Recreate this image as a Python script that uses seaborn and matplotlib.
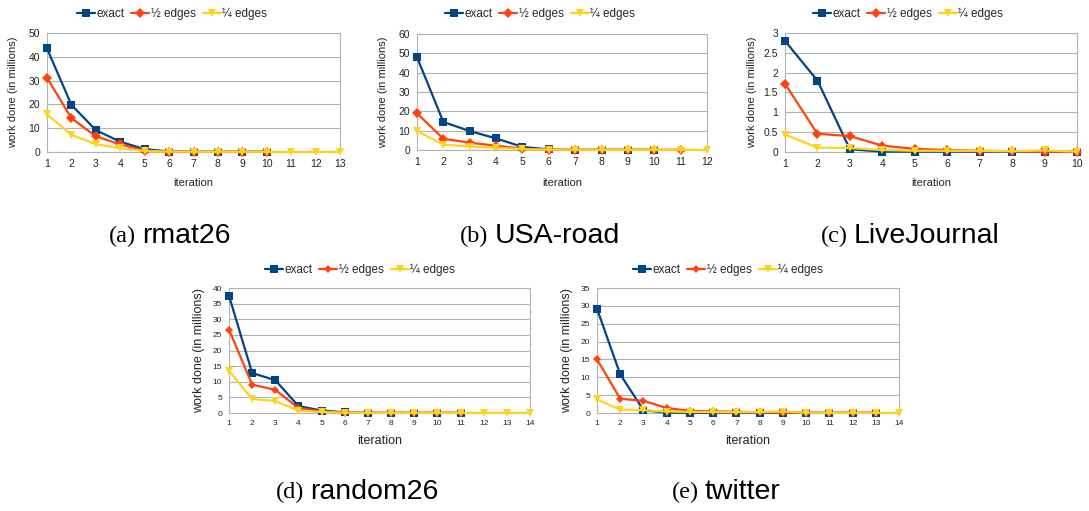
import numpy as np
import pandas as pd
import matplotlib
matplotlib.use("Agg")
import matplotlib.pyplot as plt
import seaborn as sns
from matplotlib.ticker import FuncFormatter, MultipleLocator

# ---- data (work done per iteration, in millions) ----
rmat26_exact = [43.5, 19.8, 9.2, 4.3, 1.2, 0.2, 0.1, 0.1, 0.1, 0.1]
rmat26_half = [31.2, 14.2, 6.6, 3.2, 0.6, 0.15, 0.1, 0.1, 0.1, 0.1]
rmat26_quarter = [15.8, 7.2, 3.3, 1.6, 0.4, 0.15, 0.1, 0.1, 0.1, 0.1, 0.1, 0.1, 0.1]

usa_exact = [48.0, 14.5, 9.8, 6.0, 1.6, 0.3, 0.1, 0.1, 0.1, 0.1]
usa_half = [19.0, 5.8, 3.8, 2.2, 0.7, 0.2, 0.1, 0.1, 0.1, 0.1, 0.1]
usa_quarter = [9.8, 2.8, 1.8, 1.2, 0.4, 0.2, 0.15, 0.1, 0.1, 0.1, 0.1, 0.1]

lj_exact = [2.8, 1.8, 0.07, 0.01, 0.01, 0.01, 0.01, 0.01, 0.01, 0.01]
lj_half = [1.72, 0.46, 0.40, 0.16, 0.08, 0.05, 0.03, 0.02, 0.01, 0.01]
lj_quarter = [0.44, 0.11, 0.10, 0.05, 0.03, 0.03, 0.03, 0.02, 0.04, 0.01]

rand_exact = [37.5, 12.8, 10.5, 2.2, 0.8, 0.2, 0.05, 0.05, 0.05, 0.05, 0.05]
rand_half = [26.7, 9.1, 7.4, 1.6, 0.5, 0.1, 0.05, 0.05, 0.05, 0.05, 0.05]
rand_quarter = [13.5, 4.5, 3.8, 0.8, 0.3, 0.1, 0.05, 0.05, 0.05, 0.05, 0.05, 0.05, 0.05, 0.05]

tw_exact = [29.2, 10.8, 0.8, 0.1, 0.05, 0.05, 0.05, 0.05, 0.05, 0.05, 0.05, 0.05, 0.05]
tw_half = [15.0, 4.0, 3.4, 1.4, 0.6, 0.45, 0.35, 0.2, 0.1, 0.1, 0.05, 0.05, 0.05]
tw_quarter = [3.8, 0.9, 0.8, 0.4, 0.3, 0.25, 0.2, 0.25, 0.4, 0.1, 0.05, 0.05, 0.05, 0.05]

series_names = ["exact", "½ edges", "¼ edges"]
series_colors = ["#004586", "#ff420e", "#ffd320"]
series_markers = ["s", "D", "v"]

panels = [
    dict(caption="(a)", name="rmat26", data=[rmat26_exact, rmat26_half, rmat26_quarter],
         xmax=13, ymax=50, ystep=10),
    dict(caption="(b)", name="USA-road", data=[usa_exact, usa_half, usa_quarter],
         xmax=12, ymax=60, ystep=10),
    dict(caption="(c)", name="LiveJournal", data=[lj_exact, lj_half, lj_quarter],
         xmax=10, ymax=3, ystep=0.5),
    dict(caption="(d)", name="random26", data=[rand_exact, rand_half, rand_quarter],
         xmax=14, ymax=40, ystep=5),
    dict(caption="(e)", name="twitter", data=[tw_exact, tw_half, tw_quarter],
         xmax=14, ymax=35, ystep=5),
]

# ---- layout (pixels) ----
W, H = 1089, 511
# left, right, top, bottom of each plotting area
boxes = [
    (47, 340, 33, 152),
    (417, 707, 34, 150),
    (785, 1077, 33, 152),
    (229, 530, 288, 413),
    (597, 899, 288, 413),
]
legend_pos = [(172, 14), (540, 14), (908, 14), (360, 270), (728, 270)]
caption_pos = [(170, 236), (540, 236), (910, 236), (357, 492), (726, 492)]
ylabel_x = [13, 383, 752, 199, 567]
xlabel_y = [183, 183, 183, 441, 441]

sns.set_theme(style="white")
plt.rcParams["font.family"] = ["Liberation Sans", "DejaVu Sans"]

fig = plt.figure(figsize=(W / 100, H / 100), dpi=100)
fig.patch.set_facecolor("white")

grid_color = "#b3b3b3"
text_color = "#222222"

caption_texts = []

for i, p in enumerate(panels):
    l, r, t, b = boxes[i]
    ax = fig.add_axes([l / W, 1 - b / H, (r - l) / W, (b - t) / H])
    bottom_row = i >= 3
    tick_fs = 6.0 if bottom_row else 7.5
    lab_fs = 9.0 if bottom_row else 8.0
    ms = 5.2 if bottom_row else 5.5

    for name, vals, col, mk in zip(series_names, p["data"], series_colors, series_markers):
        df = pd.DataFrame({"iteration": np.arange(1, len(vals) + 1), "work": vals})
        msize = ms if mk == "s" else (ms * 0.85 if mk == "D" else ms * 1.15)
        sns.lineplot(data=df, x="iteration", y="work", ax=ax, color=col, marker=mk,
                     markersize=msize, markeredgewidth=0, linewidth=1.6, label=name,
                     legend=False, clip_on=False, zorder=3)

    ax.set_xlim(1, p["xmax"])
    ax.set_ylim(0, p["ymax"])
    ax.xaxis.set_major_locator(MultipleLocator(1))
    ax.yaxis.set_major_locator(MultipleLocator(p["ystep"]))
    ax.yaxis.set_major_formatter(FuncFormatter(lambda v, pos: f"{v:g}"))
    ax.grid(axis="y", color=grid_color, linewidth=0.8)
    ax.set_axisbelow(True)
    for s in ax.spines.values():
        s.set_color(grid_color)
        s.set_linewidth(0.8)
    ax.tick_params(axis="both", which="major", labelsize=tick_fs, length=3,
                   color=grid_color, width=0.8, pad=2, labelcolor=text_color)
    ax.set_xlabel("")
    ax.set_ylabel("")

    cy = (t + b) / 2
    fig.text(ylabel_x[i] / W, 1 - cy / H, "work done (in millions)", rotation=90,
             ha="center", va="center", fontsize=lab_fs, color=text_color)
    fig.text(((l + r) / 2) / W, 1 - xlabel_y[i] / H, "iteration",
             ha="center", va="center", fontsize=lab_fs, color=text_color)

    handles, labels = ax.get_legend_handles_labels()
    lx, ly = legend_pos[i]
    fig.legend(handles, labels, loc="center", bbox_to_anchor=(lx / W, 1 - ly / H),
               ncol=3, frameon=False, fontsize=8.5, handlelength=1.5,
               handletextpad=0.15, columnspacing=0.6, borderaxespad=0)

    # sub-figure caption: serif tag followed by sans-serif name
    cx, cyc = caption_pos[i]
    tag = fig.text(0, 1 - cyc / H, p["caption"], ha="left", va="center",
                   fontsize=17.5, family="Liberation Serif", color="black")
    nm = fig.text(0, 1 - cyc / H, p["name"], ha="left", va="center",
                  fontsize=20.5, family="Liberation Sans", color="black")
    caption_texts.append((tag, nm, cx))

# centre each caption (tag + gap + name) on its panel
fig.canvas.draw()
renderer = fig.canvas.get_renderer()
gap = 6
for tag, nm, cx in caption_texts:
    wt = tag.get_window_extent(renderer).width
    wn = nm.get_window_extent(renderer).width
    x0 = cx - (wt + gap + wn) / 2
    tag.set_x(x0 / W)
    nm.set_x((x0 + wt + gap) / W)

fig.savefig("out.png", dpi=100, facecolor="white")
